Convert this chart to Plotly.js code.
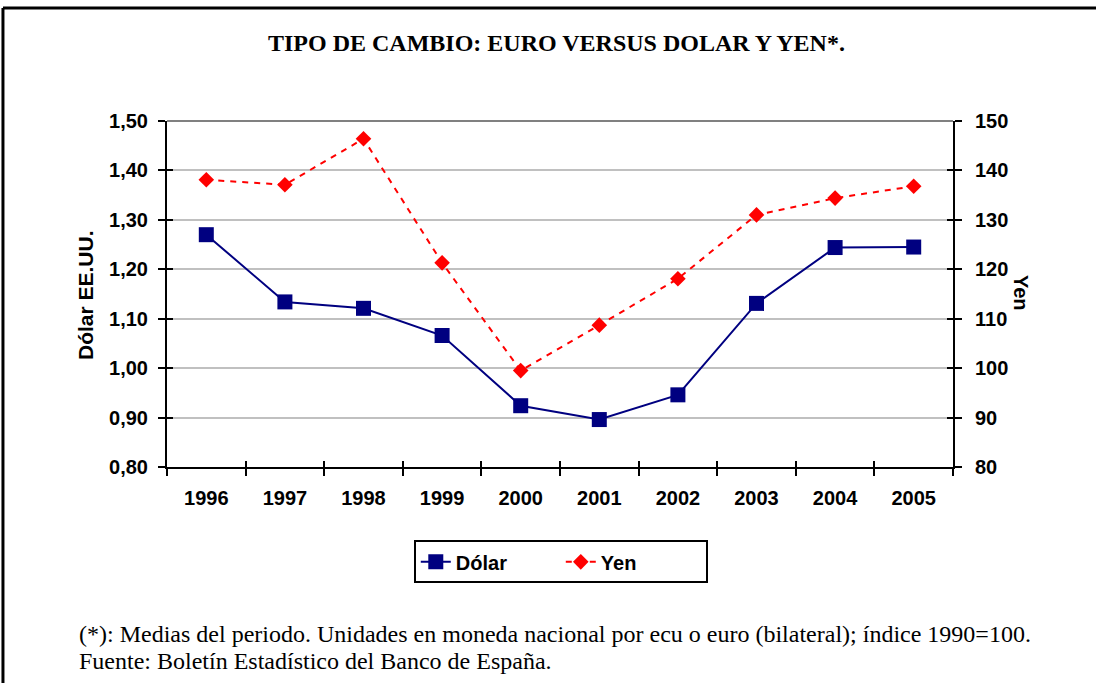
<!DOCTYPE html>
<html>
<head>
<meta charset="utf-8">
<script src="https://cdn.plot.ly/plotly-3.0.1.min.js"></script>
<style>
  html, body { margin: 0; padding: 0; background: #ffffff; }
  #chart { width: 1096px; height: 683px; }
</style>
</head>
<body>
<div id="chart"></div>
<script>
const years = ['1996','1997','1998','1999','2000','2001','2002','2003','2004','2005'];
const dolar = [1.270, 1.134, 1.121, 1.066, 0.924, 0.896, 0.946, 1.131, 1.244, 1.245];
const yen   = [138.1, 137.1, 146.4, 121.3, 99.5, 108.7, 118.1, 131.0, 134.4, 136.8];
const leftTicks  = [0.8, 0.9, 1.0, 1.1, 1.2, 1.3, 1.4, 1.5];
const rightTicks = [80, 90, 100, 110, 120, 130, 140, 150];

const titleText = 'TIPO DE CAMBIO: EURO VERSUS DOLAR Y YEN*.';
const note1 = '(*): Medias del periodo. Unidades en moneda nacional por ecu o euro (bilateral); índice 1990=100.';
const note2 = 'Fuente: Boletín Estadístico del Banco de España.';

const SANS = 'Liberation Sans, Arial, sans-serif';
const SERIF = 'Liberation Serif, Times New Roman, serif';

const traces = [
  {
    x: years, y: dolar, name: 'Dólar', type: 'scatter', mode: 'lines+markers',
    xaxis: 'x', yaxis: 'y',
    line: { color: '#000080', width: 2 },
    marker: { symbol: 'square', size: 15, color: '#000080' }
  },
  {
    x: years, y: yen, name: 'Yen', type: 'scatter', mode: 'lines+markers',
    xaxis: 'x', yaxis: 'y2',
    line: { color: '#ff0000', width: 2, dash: '6px,6px' },
    marker: { symbol: 'diamond', size: 12, color: '#ff0000' }
  },
  // helper traces for the inner halves of the crossing tick marks
  { x: years, y: years.map(() => null), xaxis: 'x2', yaxis: 'y3', type: 'scatter', mode: 'lines',
    showlegend: false, hoverinfo: 'skip' },
  { x: years, y: years.map(() => null), xaxis: 'x', yaxis: 'y4', type: 'scatter', mode: 'lines',
    showlegend: false, hoverinfo: 'skip' }
];

const tickFont = { family: SANS, size: 20, color: '#000000', weight: 'bold' };

const layout = {
  width: 1096, height: 683,
  margin: { l: 167, r: 143, t: 121, b: 216, pad: 0 },
  paper_bgcolor: '#ffffff', plot_bgcolor: '#ffffff',
  separators: ',.',
  showlegend: true,
  xaxis: {
    type: 'category', range: [-0.5, 9.5], tickson: 'boundaries',
    showline: true, linecolor: '#000000', linewidth: 2,
    ticks: 'outside', ticklen: 7, tickwidth: 2, tickcolor: '#000000',
    tickfont: tickFont, ticklabelstandoff: 12,
    showgrid: false, zeroline: false, fixedrange: true
  },
  xaxis2: {
    type: 'category', range: [-0.5, 9.5], tickson: 'boundaries', overlaying: 'x', anchor: 'y3',
    showline: false, ticks: 'inside', ticklen: 6, tickwidth: 2, tickcolor: '#000000',
    showticklabels: false, showgrid: false, zeroline: false
  },
  yaxis: {
    range: [0.8, 1.5], tickvals: leftTicks, tickformat: '.2f',
    showline: true, linecolor: '#000000', linewidth: 2,
    ticks: 'outside', ticklen: 7, tickwidth: 2, tickcolor: '#000000',
    tickfont: tickFont, ticklabelstandoff: 6,
    showgrid: true, gridcolor: '#c0c0c0', gridwidth: 2, zeroline: false
  },
  yaxis2: {
    range: [80, 150], tickvals: rightTicks, overlaying: 'y', side: 'right',
    showline: true, linecolor: '#000000', linewidth: 2,
    ticks: 'outside', ticklen: 7, tickwidth: 2, tickcolor: '#000000',
    tickfont: tickFont, ticklabelstandoff: 9,
    showgrid: false, zeroline: false
  },
  yaxis3: {
    range: [0.8, 1.5], tickvals: leftTicks, overlaying: 'y', side: 'left', anchor: 'x2',
    showline: false, ticks: 'inside', ticklen: 6, tickwidth: 2, tickcolor: '#000000',
    showticklabels: false, showgrid: false, zeroline: false
  },
  yaxis4: {
    range: [80, 150], tickvals: rightTicks, overlaying: 'y', side: 'right',
    showline: false, ticks: 'inside', ticklen: 6, tickwidth: 2, tickcolor: '#000000',
    showticklabels: false, showgrid: false, zeroline: false
  },
  legend: {
    orientation: 'h', x: 0.501, xanchor: 'center', y: -0.212, yanchor: 'top',
    bordercolor: '#000000', borderwidth: 2, bgcolor: '#ffffff',
    font: { family: SANS, size: 20, color: '#000000', weight: 'bold' },
    itemwidth: 30, entrywidth: 100, traceorder: 'normal'
  },
  shapes: [
    // dark top border of plot area
    { type: 'line', xref: 'paper', yref: 'paper', x0: 0, x1: 1, y0: 1, y1: 1,
      line: { color: '#808080', width: 2 } },
    // outer frame (top and left)
    { type: 'line', xref: 'paper', yref: 'paper', x0: -0.2087, x1: 1.25, y0: 1.3266, y1: 1.3266,
      line: { color: '#000000', width: 3 } },
    { type: 'line', xref: 'paper', yref: 'paper', x0: -0.2087, x1: -0.2087, y0: 1.3266, y1: -0.7,
      line: { color: '#000000', width: 3 } }
  ],
  annotations: [
    { text: '<b>' + titleText + '</b>', xref: 'paper', yref: 'paper',
      x: 0.496, y: 1.225, xanchor: 'center', yanchor: 'middle', showarrow: false,
      font: { family: SERIF, size: 24, color: '#000000' } },
    { text: '<b>Dólar EE.UU.</b>', xref: 'paper', yref: 'paper',
      x: (85 - 167) / 786, y: (467 - 295) / 346, xanchor: 'center', yanchor: 'middle',
      textangle: -90, showarrow: false,
      font: { family: SANS, size: 21, color: '#000000' } },
    { text: '<b>Yen</b>', xref: 'paper', yref: 'paper',
      x: (1021 - 167) / 786, y: (467 - 293) / 346, xanchor: 'center', yanchor: 'middle',
      textangle: 90, showarrow: false,
      font: { family: SANS, size: 20, color: '#000000' } },
    { text: note1, xref: 'paper', yref: 'paper',
      x: (77 - 167) / 786, y: (467 - 634) / 346, xanchor: 'left', yanchor: 'middle',
      showarrow: false, align: 'left',
      font: { family: SERIF, size: 24, color: '#000000' } },
    { text: note2, xref: 'paper', yref: 'paper',
      x: (77 - 167) / 786, y: (467 - 661) / 346, xanchor: 'left', yanchor: 'middle',
      showarrow: false, align: 'left',
      font: { family: SERIF, size: 24, color: '#000000' } }
  ]
};

Plotly.newPlot('chart', traces, layout, { staticPlot: true, displayModeBar: false });
</script>
</body>
</html>
